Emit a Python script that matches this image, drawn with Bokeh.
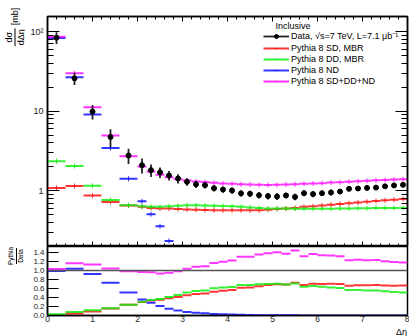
import math
from bokeh.plotting import figure
from bokeh.models import (ColumnDataSource, Range1d, LogAxis, LinearAxis, FixedTicker,
                          SingleIntervalTicker, CustomJSTickFormatter, Label, Legend,
                          LegendItem, Span, Div)
from bokeh.layouts import column, row
from bokeh.embed import file_html
from bokeh.resources import INLINE

# ---------------- data ----------------
edges = [0.0, 0.4, 0.8, 1.2, 1.6, 2.0, 2.2, 2.4, 2.6, 2.8, 3.0, 3.2, 3.4, 3.6, 3.8,
         4.0, 4.2, 4.4, 4.6, 4.8, 5.0, 5.2, 5.4, 5.6, 5.8, 6.0, 6.2, 6.4, 6.6, 6.8,
         7.0, 7.2, 7.4, 7.6, 7.8, 8.0]

data_val = [84.0, 25.9, 9.9, 4.75, 2.78, 2.10, 1.82, 1.71, 1.56, 1.43, 1.30, 1.21,
            1.18, 1.08, 1.04, 1.01, 0.93, 0.92, 0.88, 0.86, 0.85, 0.875, 0.84, 0.935,
            0.91, 0.935, 0.955, 0.98, 1.06, 1.07, 1.09, 1.10, 1.14, 1.17, 1.19]
data_err = [14.0, 4.5, 2.0, 1.2, 0.6, 0.45, 0.33, 0.26, 0.21, 0.19, 0.14, 0.12,
            0.11, 0.10, 0.09, 0.09, 0.08, 0.08, 0.08, 0.08, 0.08, 0.07, 0.08, 0.08,
            0.08, 0.07, 0.08, 0.05, 0.03, 0.03, 0.03, 0.03, 0.03, 0.03, 0.03]

sd_mbr = [1.09, 1.15, 0.875, 0.727, 0.655, 0.63, 0.61, 0.60, 0.60, 0.59, 0.585, 0.58,
          0.575, 0.57, 0.57, 0.57, 0.57, 0.57, 0.57, 0.58, 0.59, 0.60, 0.61, 0.63,
          0.64, 0.655, 0.67, 0.685, 0.70, 0.715, 0.73, 0.745, 0.76, 0.775, 0.79]
dd_mbr = [2.36, 2.05, 1.16, 0.77, 0.66, 0.64, 0.63, 0.63, 0.64, 0.65, 0.66, 0.66,
          0.655, 0.65, 0.645, 0.64, 0.63, 0.62, 0.61, 0.60, 0.60, 0.60, 0.595, 0.595,
          0.595, 0.595, 0.595, 0.60, 0.60, 0.605, 0.605, 0.61, 0.61, 0.61, 0.61]
nd = [83.0, 26.8, 9.1, 3.45, 1.42, 0.74, 0.51, 0.36, 0.235, 0.157, 0.104, 0.073,
      0.059, 0.038, 0.026, 0.020, 0.014, 0.010, 0.007, 0.005, 0.004, 0.003, 0.003,
      0.002, 0.002, 0.002, 0.001, 0.001, 0.001, 0.001, 0.001, 0.001, 0.001, 0.001, 0.001]
total = [86.5, 30.0, 11.2, 4.95, 2.73, 2.03, 1.75, 1.59, 1.48, 1.40, 1.35, 1.31,
         1.29, 1.26, 1.24, 1.23, 1.21, 1.20, 1.19, 1.185, 1.19, 1.20, 1.21, 1.23,
         1.24, 1.25, 1.27, 1.285, 1.30, 1.32, 1.335, 1.355, 1.37, 1.385, 1.40]

series = [
    ("Pythia 8 SD, MBR", sd_mbr, "#ff1010"),
    ("Pythia 8 DD, MBR", dd_mbr, "#10ee10"),
    ("Pythia 8 ND", nd, "#1010ff"),
    ("Pythia 8 SD+DD+ND", total, "#ff10ff"),
]

ratio_ticks = [0.0, 0.2, 0.4, 0.6, 0.8, 1.0, 1.2, 1.4]

lo = edges[:-1]
hi = edges[1:]
xc = [(a + b) / 2 for a, b in zip(lo, hi)]

FONT = "Liberation Sans"
LOG_MINOR = [m * 10 ** e for e in (-1, 0, 1, 2) for m in range(2, 10)]
EMPTY = "return '';"

LW = 24          # width of the strip holding the y titles
MW = 409 - LW    # width of the main panels


def style_axis(ax, tick_in, minor_in, labels=True, size="9px", standoff=4):
    ax.axis_line_color = "black"
    ax.axis_line_width = 1.5
    ax.major_tick_in = tick_in
    ax.major_tick_out = 0
    ax.minor_tick_in = minor_in
    ax.minor_tick_out = 0
    ax.major_tick_line_color = "black" if tick_in > 0 else None
    ax.minor_tick_line_color = "black" if minor_in > 0 else None
    ax.major_tick_line_width = 1
    ax.minor_tick_line_width = 1
    if labels:
        ax.major_label_text_font = FONT
        ax.major_label_text_font_size = size
        ax.major_label_text_color = "#222222"
        ax.major_label_standoff = standoff
    else:
        ax.formatter = CustomJSTickFormatter(code=EMPTY)
        ax.major_label_text_font_size = "1px"
        ax.major_label_standoff = 0


# ---------------- top panel ----------------
p = figure(width=MW, height=246, x_range=Range1d(0, 8), y_range=Range1d(0.2, 155),
           y_axis_type="log", output_backend="svg", toolbar_location=None,
           min_border_left=47 - LW, min_border_right=2, min_border_top=16,
           min_border_bottom=0)
p.xgrid.visible = False
p.ygrid.visible = False
p.outline_line_color = "black"
p.outline_line_width = 1.5

ly = p.yaxis[0]
ly.ticker = FixedTicker(ticks=[1, 10, 100], minor_ticks=LOG_MINOR)
ly.formatter = CustomJSTickFormatter(code="return tick >= 99 ? '10\u00b2' : tick.toFixed(0);")
style_axis(ly, 12, 6, True, "9px", 4)

bx = p.xaxis[0]
bx.ticker = SingleIntervalTicker(interval=1, num_minor_ticks=5)
style_axis(bx, 5, 3, False)

ax_top = LinearAxis(ticker=SingleIntervalTicker(interval=1, num_minor_ticks=5))
style_axis(ax_top, 5, 3, False)
p.add_layout(ax_top, "above")

ax_right = LogAxis(ticker=FixedTicker(ticks=[1, 10, 100], minor_ticks=LOG_MINOR))
style_axis(ax_right, 12, 6, False)
p.add_layout(ax_right, "right")

mc_renderers = []
for name, vals, col in series:
    src = ColumnDataSource(dict(lo=lo, hi=hi, x=xc, y=vals))
    seg = p.segment(x0="lo", y0="y", x1="hi", y1="y", source=src, line_color=col,
                    line_width=2, line_alpha=0.85)
    tick = p.scatter(x="x", y="y", source=src, marker="dash", angle=math.pi / 2, size=5,
                     line_color=col, line_width=1, line_alpha=0.85)
    mc_renderers.append((name, seg, tick))

dsrc = ColumnDataSource(dict(x=xc, y=data_val,
                             ylo=[v - e for v, e in zip(data_val, data_err)],
                             yhi=[v + e for v, e in zip(data_val, data_err)]))
derr = p.segment(x0="x", y0="ylo", x1="x", y1="yhi", source=dsrc, line_color="#222222",
                 line_width=1.8)
dpt = p.scatter(x="x", y="y", source=dsrc, marker="circle", size=5, color="black")

legend_items = [LegendItem(label="Data, \u221as=7 TeV, L=7.1 \u03bcb\u207b\u00b9",
                           renderers=[derr, dpt])]
for name, seg, tick in mc_renderers:
    legend_items.append(LegendItem(label=name, renderers=[seg, tick]))

legend = Legend(items=legend_items, location=(216, 160), label_text_font=FONT,
                label_text_font_size="9px", label_text_color="black", glyph_width=26,
                glyph_height=10, label_height=10, label_standoff=2, spacing=1,
                padding=0, margin=0, border_line_color=None, background_fill_alpha=0)
p.add_layout(legend)

p.add_layout(Label(x=228, y=221, x_units="screen", y_units="screen", text="Inclusive",
                   text_font=FONT, text_font_size="9px", text_align="left",
                   text_baseline="middle", text_color="black"))

# ---------------- ratio panel ----------------
r = figure(width=MW, height=79, x_range=p.x_range, y_range=Range1d(0, 1.53),
           output_backend="svg", toolbar_location=None,
           min_border_left=47 - LW, min_border_right=2, min_border_top=0,
           min_border_bottom=10)
r.xgrid.visible = False
r.ygrid.visible = False
r.outline_line_color = "black"
r.outline_line_width = 1.5

rly = r.yaxis[0]
rly.ticker = FixedTicker(ticks=ratio_ticks, minor_ticks=[])
rly.formatter = CustomJSTickFormatter(code="return tick.toFixed(1);")
style_axis(rly, 11, 0, True, "8px", 3)

rbx = r.xaxis[0]
rbx.ticker = SingleIntervalTicker(interval=1, num_minor_ticks=5)
rbx.formatter = CustomJSTickFormatter(code="return tick.toFixed(0);")
style_axis(rbx, 0, 0, True, "8.5px", 0)

r.add_layout(Span(location=1.0, dimension="width", line_color="#555555", line_width=1.5))

for name, vals, col in series:
    ratio = [m / d for m, d in zip(vals, data_val)]
    src = ColumnDataSource(dict(lo=lo, hi=hi, y=ratio))
    r.segment(x0="lo", y0="y", x1="hi", y1="y", source=src, line_color=col,
              line_width=2, line_alpha=0.85)

# ---------------- strip with the x title (HTML) ----------------
s = Div(text=(f"<div style='position:relative;top:-2px;width:{MW}px;height:9px;"
              f"text-align:right;font-family:\"{FONT}\";font-size:9px;line-height:9px;"
              f"color:black;padding:0 2px 0 0;box-sizing:border-box;white-space:nowrap;"
              f"overflow:visible;'>&Delta;&eta;</div>"),
        width=MW, height=11, margin=0)

# ---------------- strip with the rotated y titles (HTML/CSS) ----------------
def frac_group(num, den, extra, cx, cy, fs):
    tail = (f"<span style='margin-left:3px;'>{extra}</span>" if extra else "")
    return (
        f"<div style='position:absolute;left:{cx}px;top:{cy}px;"
        f"transform:translate(-50%,-50%) rotate(-90deg);white-space:nowrap;"
        f"font-family:\"{FONT}\";font-size:{fs}px;color:black;line-height:1;'>"
        f"<span style='display:inline-flex;align-items:center;'>"
        f"<span style='display:inline-flex;flex-direction:column;align-items:center;'>"
        f"<span style='padding:0 1px 1px 1px;'>{num}</span>"
        f"<span style='border-top:1px solid black;padding:1px 1px 0 1px;'>{den}</span>"
        f"</span>{tail}</span></div>"
    )

html = ("<div style='position:relative;width:24px;height:336px;'>"
        + frac_group("d&sigma;", "d&Delta;&eta;", "[mb]", 15, 27, 9)
        + frac_group("Pythia", "Data", "", 15.5, 255.5, 6.5)
        + "</div>")
t = Div(text=html, width=LW, height=336, margin=0)

layout = row(t, column(p, r, s, spacing=0), spacing=0)
open("out.html", "w").write(file_html(layout, INLINE))
